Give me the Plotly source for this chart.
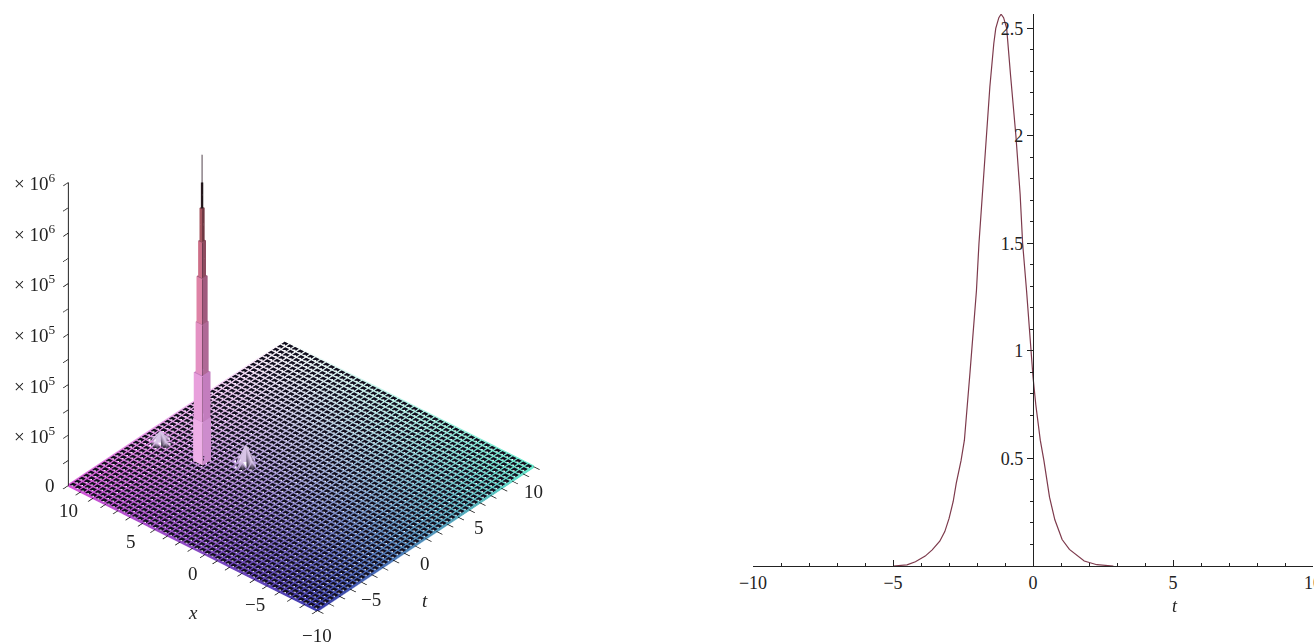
import numpy as np
import plotly.graph_objects as go

# ---- right panel: curve
curve_t = [-5.0,-4.5,-4.2,-3.85,-3.6,-3.33,-3.15,-3.0,-2.85,-2.74,-2.57,-2.45,-2.25,-2.02,-1.93,-1.81,-1.68,-1.54,-1.4,-1.33,-1.22,-1.14,-1.05,-0.94,-0.8,-0.61,-0.46,-0.37,-0.23,-0.1,0.0,0.1,0.26,0.39,0.59,0.78,1.04,1.3,1.83,2.28,2.87]
curve_y = [0.0,0.005,0.02,0.046,0.075,0.115,0.16,0.22,0.3,0.385,0.49,0.585,0.9,1.28,1.5,1.72,2.0,2.23,2.43,2.5,2.55,2.566,2.55,2.5,2.28,2.0,1.73,1.5,1.28,1.05,0.88,0.75,0.585,0.49,0.32,0.215,0.123,0.077,0.023,0.006,0.0]
t_ticks = [-10,-5,0,5,10]
t_labels = ["\u221210","\u22125","0","5","10"]
y_ticks = [0.5,1,1.5,2,2.5]
y_labels = ["0.5","1","1.5","2","2.5"]

# ---- left panel: small bumps on the otherwise flat surface
grid_n = 49
bump_i = [16,16,15,17,16, 3,3,2,4,3]
bump_j = [21,20,21,21,22, 17,16,17,17,18]
bump_z = [7e4,2e4,2e4,2e4,2e4, 4e4,1e4,1e4,1e4,1e4]
# the tall spike: stacked sections
spike_x = 5.6
spike_t = -2.7
spike_tops = [1.7e5,3.5e5,5.5e5,7.3e5,8.7e5,1.0e6,1.1e6,1.21e6]
spike_half = [0.385,0.36,0.28,0.24,0.17,0.11,0.05,0.02]
spike_left_col = ["rgb(238,175,232)","rgb(232,160,220)","rgb(228,145,195)","rgb(222,130,165)","rgb(205,110,135)","rgb(165,85,95)","rgb(40,25,30)","rgb(60,50,55)"]
spike_right_col = ["rgb(205,140,205)","rgb(195,125,190)","rgb(175,105,150)","rgb(160,90,125)","rgb(140,75,95)","rgb(110,55,65)","rgb(20,15,15)","rgb(50,40,45)"]
z_major = [0,2e5,4e5,6e5,8e5,1e6,1.2e6]
z_labels = ["0","\u00d7 10<sup>5</sup>","\u00d7 10<sup>5</sup>","\u00d7 10<sup>5</sup>","\u00d7 10<sup>5</sup>","\u00d7 10<sup>6</sup>","\u00d7 10<sup>6</sup>"]
z_ticks = [0,1e5,2e5,3e5,4e5,5e5,6e5,7e5,8e5,9e5,1e6,1.1e6,1.2e6]
xt_ticks = list(range(-10,11))
x_major = [10,5,0,-5,-10]
x_major_labels = ["10","5","0","\u22125","\u221210"]
t_major = [10,5,0,-5]
t_major_labels = ["10","5","0","\u22125"]

corner_left = (215,85,215)    # x=10,t=-10
corner_bottom = (62,62,175)   # x=-10,t=-10
corner_right = (105,235,205)  # x=-10,t=10
corner_back = (255,255,255)   # x=10,t=10
bump_col = (215,195,230)
hole_col = "rgb(18,14,30)"

xs = np.linspace(10,-10,grid_n)
ts = np.linspace(-10,10,grid_n)
Z = np.zeros((grid_n,grid_n))
for a_,b_,v in zip(bump_i,bump_j,bump_z):
    Z[a_,b_] = v

def col(i,j):
    if Z[i,j]>0:
        return "rgb(%d,%d,%d)"%bump_col
    u,w = i/(grid_n-1), j/(grid_n-1)
    c = [(1-u)*(1-w)*corner_left[k]+u*(1-w)*corner_bottom[k]+u*w*corner_right[k]+(1-u)*w*corner_back[k] for k in range(3)]
    return "rgb(%d,%d,%d)"%tuple(c)

vx,vy,vz,vc = [],[],[],[]
for i in range(grid_n):
    for j in range(grid_n):
        vx.append(xs[i]); vy.append(ts[j]); vz.append(Z[i,j])
        vc.append("rgb(%d,%d,%d)"%bump_col if Z[i,j]>0 else hole_col)
fi,fj,fk = [],[],[]
for i in range(grid_n-1):
    for j in range(grid_n-1):
        p = i*grid_n+j
        fi += [p,p+1]; fj += [p+1,p+grid_n+1]; fk += [p+grid_n+1,p+grid_n]

lx,ly,lz,lc = [],[],[],[]
for i in range(grid_n):
    lx += [xs[i]]*grid_n+[None]; ly += list(ts)+[None]; lz += list(Z[i,:])+[None]
    lc += [col(i,j) for j in range(grid_n)]+["rgb(0,0,0)"]
for j in range(grid_n):
    lx += list(xs)+[None]; ly += [ts[j]]*grid_n+[None]; lz += list(Z[:,j])+[None]
    lc += [col(i,j) for i in range(grid_n)]+["rgb(0,0,0)"]

# spike prisms
px,py,pz,pi,pj,pk,pc = [],[],[],[],[],[],[]
ex,ey,ez = [],[],[]
lo = 0.0
for top,h,cl,cr in zip(spike_tops,spike_half,spike_left_col,spike_right_col):
    n = len(px)
    for zz in (lo,top):
        for dx,dt in ((h,-h),(-h,-h),(-h,h),(h,h)):   # left, front, right, back
            px.append(spike_x+dx); py.append(spike_t+dt); pz.append(zz)
    for a_,c_ in ((0,cl),(1,cr),(2,cr),(3,cl)):
        b_=(a_+1)%4
        pi+=[n+a_,n+b_]; pj+=[n+b_,n+b_+4]; pk+=[n+b_+4,n+a_+4]; pc+=[c_,c_]
    pi+=[n+4,n+4]; pj+=[n+5,n+6]; pk+=[n+6,n+7]; pc+=[cr,cr]
    ex+=[spike_x-h,spike_x-h,None]; ey+=[spike_t-h,spike_t-h,None]; ez+=[lo,top,None]
    lo = top

fig = go.Figure()
flat = dict(ambient=1,diffuse=0,specular=0,roughness=1,fresnel=0,facenormalsepsilon=0,vertexnormalsepsilon=0)
fig.add_trace(go.Mesh3d(x=vx,y=vy,z=vz,i=fi,j=fj,k=fk,vertexcolor=vc,lighting=flat,hoverinfo="skip",showscale=False))
fig.add_trace(go.Scatter3d(x=lx,y=ly,z=lz,mode="lines",line=dict(color=lc,width=5),hoverinfo="skip",showlegend=False))
fig.add_trace(go.Mesh3d(x=px,y=py,z=pz,i=pi,j=pj,k=pk,facecolor=pc,lighting=flat,hoverinfo="skip",showscale=False))
fig.add_trace(go.Scatter3d(x=ex,y=ey,z=ez,mode="lines",line=dict(color="#3a2030",width=1),hoverinfo="skip",showlegend=False))
fig.add_trace(go.Scatter3d(x=[10,10],y=[-10,-10],z=[0,1.2e6],mode="lines",line=dict(color="#222",width=2),hoverinfo="skip",showlegend=False))
fig.add_trace(go.Scatter(x=curve_t,y=curve_y,mode="lines",line=dict(color="#7d3a4c",width=1.2),hoverinfo="skip",showlegend=False,xaxis="x",yaxis="y"))

font = dict(family="Liberation Serif",size=18,color="#222")
font3 = dict(family="Liberation Serif",size=19,color="#222")
ax3 = dict(showgrid=False,zeroline=False,showbackground=False,showspikes=False,showline=False,
           ticks="outside",ticklen=8,tickwidth=1.5,tickcolor="black",showticklabels=False,tickmode="array")
notes = [dict(x=0,y=-10,z=0,text="<i>x</i>",showarrow=False,yshift=-64,font=font3),
         dict(x=-10,y=0,z=0,text="<i>t</i>",showarrow=False,yshift=-62,font=font3)]
for v,s in zip(z_major,z_labels):
    notes.append(dict(x=10,y=-10,z=v,text=s,showarrow=False,xanchor="right",xshift=-11,font=font3))
for v,s in zip(x_major,x_major_labels):
    notes.append(dict(x=v,y=-10,z=0,text=s,showarrow=False,yshift=-25,font=font3))
for v,s in zip(t_major,t_major_labels):
    notes.append(dict(x=-10,y=v,z=0,text=s,showarrow=False,yshift=-25,font=font3))
d=1.49
a=1.032
fig.update_layout(
    width=1314,height=642,margin=dict(l=0,r=0,t=0,b=0,autoexpand=False),paper_bgcolor="white",plot_bgcolor="white",showlegend=False,
    scene=dict(domain=dict(x=[0,0.458],y=[3/642,1]),aspectmode="manual",aspectratio=dict(x=a,y=a,z=1.23*a),
        camera=dict(projection=dict(type="orthographic"),eye=dict(x=.542*d,y=-.624*d,z=.563*d),up=dict(x=0,y=0,z=1),center=dict(x=0,y=0,z=-0.034)),
        xaxis=dict(ax3,range=[10,-10],tickvals=xt_ticks,title=dict(text="")),
        yaxis=dict(ax3,range=[-10,10],tickvals=xt_ticks,title=dict(text="")),
        zaxis=dict(ax3,range=[0,1.31e6],tickvals=z_ticks,title=dict(text="")),
        annotations=notes),
    xaxis=dict(domain=[753/1314,1313/1314],range=[-10,10],tickvals=t_ticks,ticktext=t_labels,ticks="inside",ticklen=6,tickwidth=1,tickcolor="#222",
        showline=True,linecolor="#222",linewidth=1.2,showgrid=False,zeroline=False,tickfont=font,automargin=False,ticklabeloverflow="allow",
        minor=dict(dtick=1,ticks="inside",ticklen=3,tickcolor="#222",showgrid=False),anchor="y"),
    yaxis=dict(domain=[(642-566)/642,(642-14)/642],range=[0,2.567],tickvals=y_ticks,ticktext=y_labels,ticks="outside",ticklen=6,tickwidth=1,tickcolor="#222",
        showline=True,linecolor="#222",linewidth=1.2,showgrid=False,zeroline=False,tickfont=font,automargin=False,
        minor=dict(dtick=0.1,ticks="outside",ticklen=3,tickcolor="#222",showgrid=False),anchor="free",position=1033/1314),
    annotations=[dict(x=5,y=0,xref="x",yref="y",yshift=-40,xshift=2,text="<i>t</i>",showarrow=False,font=font)],
)
fig.write_html("out.html",config=dict(displayModeBar=False),post_script="document.body.style.margin='0';document.body.style.overflow='hidden';")
